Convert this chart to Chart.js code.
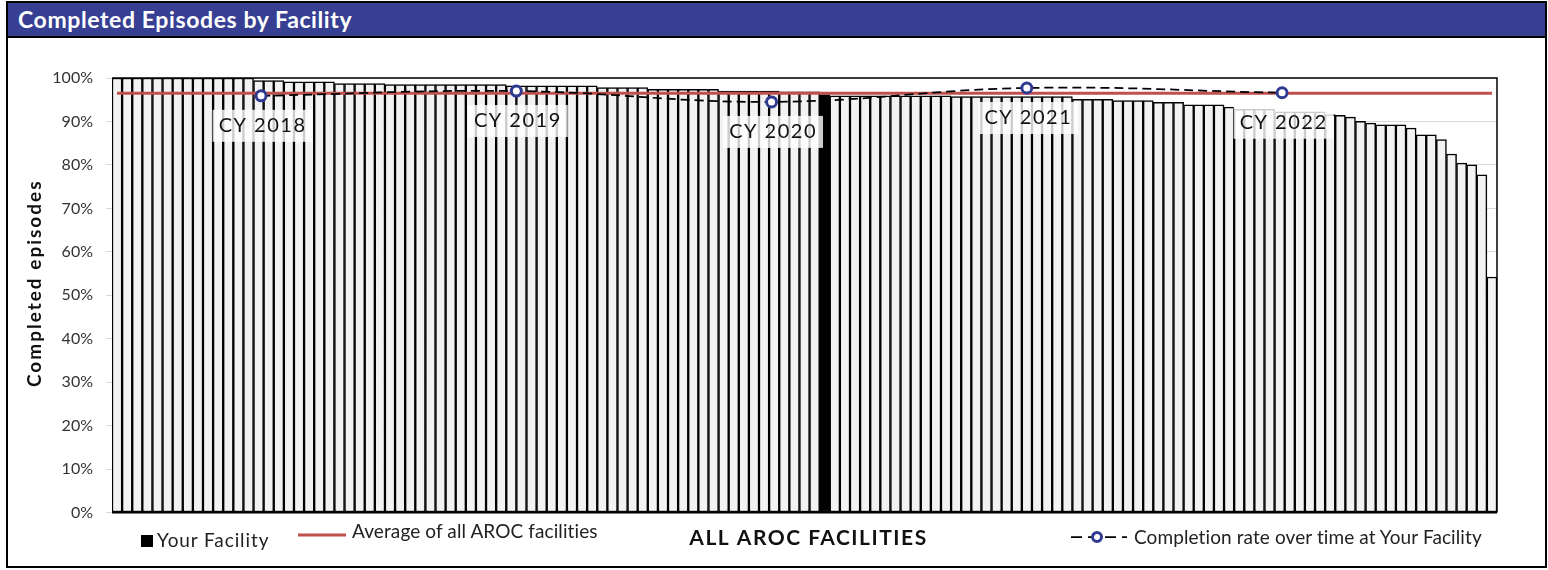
<!DOCTYPE html>
<html>
<head>
<meta charset="utf-8">
<script src="https://cdn.jsdelivr.net/npm/chart.js@4.4.1/dist/chart.umd.min.js"></script>
<style>
  html, body { margin: 0; padding: 0; background: #fff; }
  body { width: 1548px; height: 570px; position: relative; overflow: hidden; font-family: 'Lato', 'Noto Sans', sans-serif; }
  #frame { position: absolute; left: 6px; top: 1px; width: 1541px; height: 567px; border: 2px solid #000; box-sizing: border-box; }
  #titlebar { position: absolute; left: 8px; top: 3px; width: 1537px; height: 35px; background: #373f92; border-bottom: 2px solid #000; box-sizing: border-box;
              color: #fff; font-weight: 700; font-size: 23px; letter-spacing: 0.6px; line-height: 33px; padding-left: 10px; }
  #wrap { position: absolute; left: 0; top: 0; width: 1548px; height: 570px; }
  .lg { position: absolute; font-size: 19px; letter-spacing: 0.1px; color: #222; white-space: nowrap; line-height: 20px; }
  .lg svg { position: absolute; }
</style>
</head>
<body>
<div id="frame"></div>
<div id="titlebar">Completed Episodes by Facility</div>
<div id="wrap"><canvas id="chart"></canvas></div>

<div class="lg" style="left:141px; top:530px; letter-spacing:0.9px;"><span style="display:inline-block;width:12px;height:12px;background:#000;margin-right:4px;vertical-align:0px;"></span>Your Facility</div>
<div class="lg" style="left:298px; top:521px;"><svg width="50" height="6" style="left:0;top:11px;"><line x1="0" y1="3" x2="48" y2="3" stroke="#c0504d" stroke-width="3"/></svg><span style="margin-left:54px;">Average of all AROC facilities</span></div>
<div class="lg" style="left:1070px; top:527px;"><svg width="60" height="16" style="left:0;top:2px;"><line x1="1" y1="8" x2="57" y2="8" stroke="#000" stroke-width="1.75" stroke-dasharray="11,6"/><circle cx="27" cy="8" r="4.5" fill="#fff" stroke="#2f3a91" stroke-width="3"/></svg><span style="margin-left:64px;">Completion rate over time at Your Facility</span></div>

<script>
// completion rate of every AROC facility, sorted high to low
const completedRate = [
  100, 100, 100, 100, 100, 100, 100, 100, 100, 100, 100, 100, 100, 100,
  99.4, 99.4, 99.4,
  99.1, 99.1, 99.1, 99.1, 99.1,
  98.7, 98.7, 98.7, 98.7, 98.7,
  98.5, 98.5, 98.5, 98.5, 98.5, 98.5, 98.5, 98.5, 98.5, 98.5, 98.5, 98.5,
  98.2, 98.2, 98.2, 98.2, 98.2, 98.2, 98.2, 98.2, 98.2,
  97.8, 97.8, 97.8, 97.8, 97.8,
  97.4, 97.4, 97.4, 97.4, 97.4, 97.4, 97.4,
  97.0, 97.0, 97.0, 97.0, 97.0, 97.0,
  96.8, 96.8, 96.8, 96.8,
  96.2,
  95.9, 95.9, 95.9, 95.9, 95.9, 95.9, 95.9, 95.9, 95.9, 95.9, 95.9, 95.9,
  95.7, 95.7, 95.7, 95.7, 95.7, 95.7, 95.7, 95.7, 95.7, 95.7, 95.7, 95.7,
  95.1, 95.1, 95.1, 95.1,
  94.8, 94.8, 94.8, 94.8,
  94.4, 94.4, 94.4,
  93.8, 93.8, 93.8, 93.8,
  93.3,
  92.8, 92.8, 92.8, 92.8,
  92.2, 92.2, 92.2, 92.2, 92.2,
  91.6, 91.4, 91.0, 90.0, 89.6,
  89.2, 89.2, 89.2,
  88.5,
  86.9, 86.9,
  85.8, 82.5, 80.4, 80.0, 77.7, 54.2
];
const facilityLabels = completedRate.map((_, i) => 'Facility ' + (i + 1));
const yourFacilityIndex = 70;
const averageRate = 96.5;

// your facility over time
const years = [2018, 2019, 2020, 2021, 2022];
const yearLabels = ['CY 2018', 'CY 2019', 'CY 2020', 'CY 2021', 'CY 2022'];
const yourRateByYear = [95.9, 97.0, 94.5, 97.7, 96.6];

const yTicks = [0, 10, 20, 30, 40, 50, 60, 70, 80, 90, 100];
const yTitle = 'Completed episodes';
const xTitle = 'ALL AROC FACILITIES';

const FONT = "'Lato', 'Noto Sans', sans-serif";

// frame round the plot, CY labels under each point, and the two axis titles
const plotDecor = {
  id: 'plotDecor',
  afterDatasetsDraw(chart) {
    const { ctx, chartArea: a } = chart;
    ctx.save();
    ctx.strokeStyle = '#000';
    ctx.lineWidth = 1.5;
    ctx.beginPath();
    ctx.moveTo(a.left, a.top);
    ctx.lineTo(a.right, a.top);
    ctx.lineTo(a.right, a.bottom);
    ctx.stroke();
    ctx.lineWidth = 2;
    ctx.beginPath();
    ctx.moveTo(a.left, a.bottom);
    ctx.lineTo(a.right, a.bottom);
    ctx.stroke();

    const meta = chart.getDatasetMeta(2);
    ctx.font = '20px ' + FONT;
    ctx.letterSpacing = '1.5px';
    ctx.textAlign = 'center';
    ctx.textBaseline = 'middle';
    meta.data.forEach((pt, i) => {
      const text = yearLabels[i];
      const w = ctx.measureText(text).width;
      const x = pt.x + 1.5;
      const y = pt.y + 30;
      ctx.fillStyle = 'rgba(255,255,255,0.8)';
      ctx.fillRect(x - w / 2 - 6, y - 16, w + 12, 32);
      ctx.fillStyle = '#111';
      ctx.fillText(text, x, y);
    });
    ctx.restore();
  },
  afterDraw(chart) {
    const { ctx, chartArea: a } = chart;
    ctx.save();
    ctx.fillStyle = '#111';
    ctx.textAlign = 'center';
    ctx.textBaseline = 'middle';

    ctx.font = 'bold 21px ' + FONT;
    ctx.letterSpacing = '1.5px';
    ctx.fillText(xTitle, (a.left + a.right) / 2 + 4, a.bottom + 26);

    ctx.font = 'bold 19px ' + FONT;
    ctx.letterSpacing = '2px';
    ctx.translate(35, (a.top + a.bottom) / 2 - 12);
    ctx.rotate(-Math.PI / 2);
    ctx.fillText(yTitle, 0, 0);
    ctx.restore();
  }
};

new Chart(document.getElementById('chart'), {
  type: 'bar',
  data: {
    labels: facilityLabels,
    datasets: [
      {
        label: 'Completed episodes',
        data: completedRate,
        backgroundColor: completedRate.map((_, i) => i === yourFacilityIndex ? '#000' : '#f2f2f2'),
        borderColor: '#000',
        borderWidth: 1.5,
        borderSkipped: false,
        barPercentage: 1,
        categoryPercentage: 1,
        grouped: false,
        order: 3,
      },
      {
        type: 'line',
        label: 'Average of all AROC facilities',
        data: facilityLabels.map(() => averageRate),
        borderColor: '#c0504d',
        borderWidth: 3,
        pointRadius: 0,
        order: 2,
      },
      {
        type: 'line',
        label: 'Completion rate over time at Your Facility',
        xAxisID: 'x2',
        data: years.map((yr, i) => ({ x: yr, y: yourRateByYear[i] })),
        borderColor: '#000',
        borderWidth: 1.75,
        borderDash: [9, 5],
        tension: 0.4,
        pointRadius: 5,
        pointBorderWidth: 3,
        pointBorderColor: '#2f3a91',
        pointBackgroundColor: '#fff',
        order: 1,
      },
    ],
  },
  options: {
    responsive: true,
    maintainAspectRatio: false,
    animation: false,
    layout: { padding: { top: 78, right: 51, bottom: 0, left: 0 } },
    plugins: {
      legend: { display: false },
      tooltip: { enabled: false },
    },
    scales: {
      x: {
        type: 'category',
        offset: true,
        grid: { display: false },
        border: { display: false },
        ticks: { display: false },
        afterFit: (scale) => { scale.height = 57.5; },
      },
      x2: {
        type: 'linear',
        display: false,
        offset: false,
        min: 2017.416,
        max: 2022.842,
      },
      y: {
        min: 0,
        max: 100,
        afterBuildTicks: (scale) => { scale.ticks = yTicks.map(v => ({ value: v })); },
        ticks: {
          color: '#333',
          padding: 13,
          font: { family: FONT, size: 16 },
          callback: (v) => v + '%',
        },
        grid: { color: '#d9d9d9', tickColor: '#d9d9d9', tickLength: 6, lineWidth: 1 },
        border: { color: '#d9d9d9' },
        afterFit: (scale) => { scale.width = 112; },
      },
    },
  },
  plugins: [plotDecor],
});
</script>
</body>
</html>
